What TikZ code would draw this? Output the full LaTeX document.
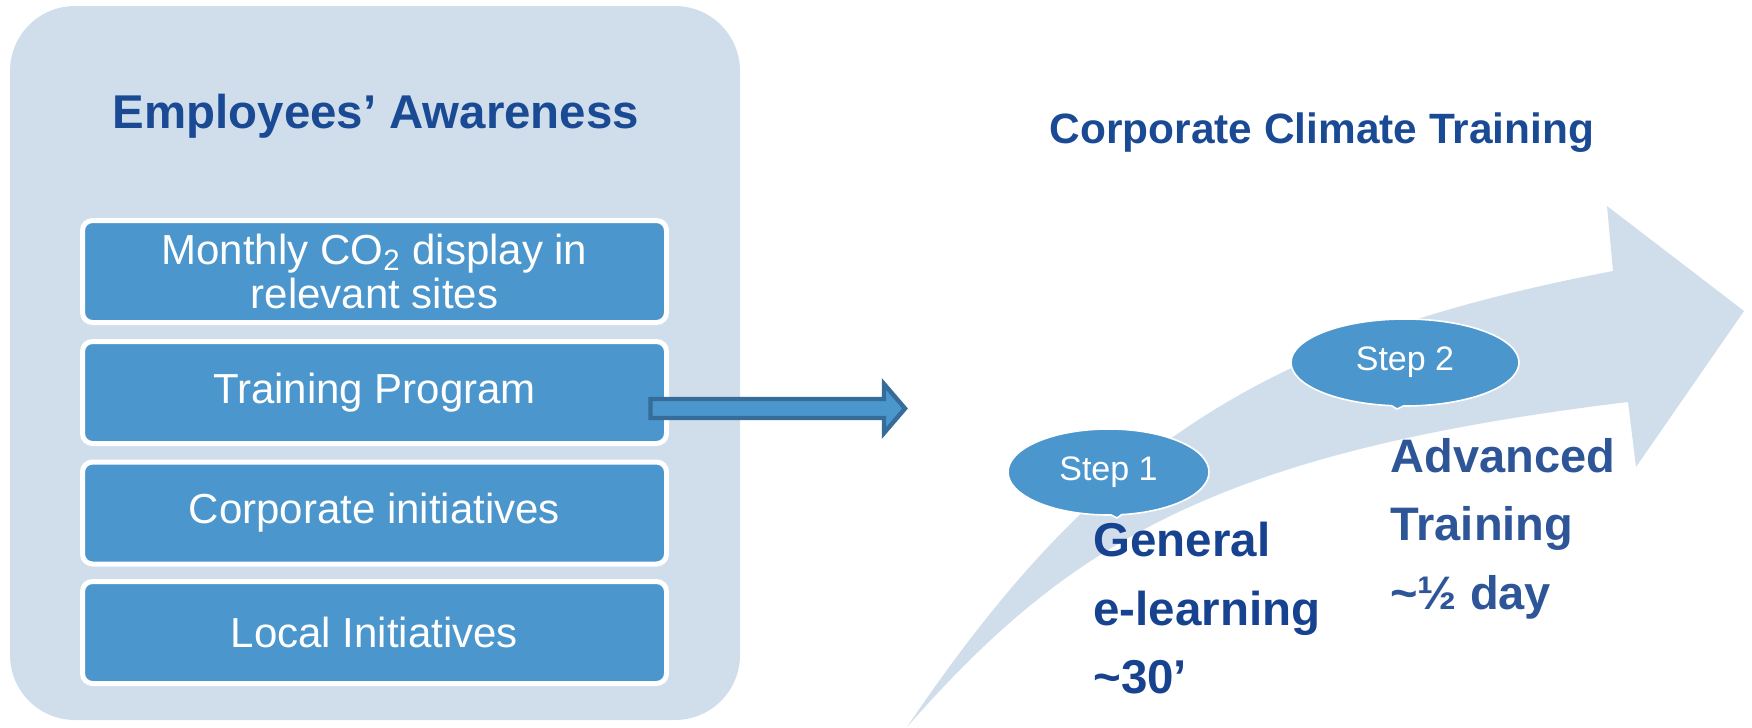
\documentclass[tikz,border=0pt]{standalone}
\usepackage{fontspec}
\setmainfont{Liberation Sans}
\usetikzlibrary{shapes.callouts}
\definecolor{panelbg}{HTML}{D0DEEC}
\definecolor{boxblue}{HTML}{4B96CD}
\definecolor{arrowedge}{HTML}{356C9A}
\definecolor{titleblue}{HTML}{1A4A94}
\definecolor{genblue}{HTML}{17428F}
\definecolor{advblue}{HTML}{2E5597}
\begin{document}
\begin{tikzpicture}[x=0.5pt,y=-0.5pt,
  itembox/.style={draw=white, line width=2.5pt, fill=boxblue, rounded corners=5pt,
    minimum width=292pt, minimum height=51pt, inner sep=0pt, text=white,
    font=\fontsize{21}{22}\selectfont, align=center},
  stepbubble/.style={ellipse callout, draw=white, line width=0.8pt, fill=boxblue,
    text=white, inner sep=0pt, callout pointer arc=6, font=\fontsize{17}{20}\selectfont},
  headtext/.style={text=titleblue, anchor=base, inner sep=0pt, font=\bfseries\fontsize{#1}{#1}\selectfont},
  gentext/.style={text=genblue, anchor=base west, inner sep=0pt, font=\bfseries\fontsize{23.75}{28}\selectfont},
  advtext/.style={text=advblue, anchor=base west, inner sep=0pt, font=\bfseries\fontsize{23.5}{28}\selectfont}
]
\useasboundingbox (0,0) rectangle (1752,728);

% left panel
\node (panel) [fill=panelbg, rounded corners=32.5pt, minimum width=365pt, minimum height=357pt, inner sep=0pt] at (375,363) {};
\node (title) [headtext=23.7] at (376,128) {Employees’ Awareness};

\node (b1) [itembox] at (374.5,271.5) {Monthly CO\textsubscript{2} display in\\relevant sites};
\node (b2) [itembox] at (374.5,392.5) {Training Program};
\node (b3) [itembox] at (374.5,513) {Corporate initiatives};
\node (b4) [itembox] at (374.5,632.5) {Local Initiatives};

% block arrow from Training Program
\draw[fill=boxblue, draw=arrowedge, line width=2.2pt, line join=miter]
  (650.5,399) -- (884,399) -- (884,384) -- (905,408.5) -- (884,433) -- (884,418) -- (650.5,418) -- cycle;

% right side title
\node (rtitle) [headtext=21.2] at (1322,143) {Corporate Climate Training};

% big curved arrow
\fill[panelbg] (907,727) .. controls (1097,446) and (1263,338) .. (1613,271)
  -- (1607,206) -- (1744,311) -- (1636,467) -- (1628,402)
  .. controls (1214,452) and (1067,545) .. (907,727) -- cycle;

% steps
\node (s1) [stepbubble, minimum width=100.5pt, minimum height=43pt, callout absolute pointer={(1117,518)}] at (1108.5,472) {Step 1};
\node (s2) [stepbubble, minimum width=114pt, minimum height=43.5pt, callout absolute pointer={(1397,409)}] at (1405,362.5) {Step 2};

\node (g1) [gentext] at (1093,556) {General};
\node (g2) [gentext] at (1093,625) {e-learning};
\node (g3) [gentext] at (1093,693) {\textasciitilde 30’};

\node (a1) [advtext] at (1390,472) {Advanced};
\node (a2) [advtext] at (1390,540) {Training};
\node (a3) [advtext] at (1390,609) {\textasciitilde ½ day};
\end{tikzpicture}
\end{document}
